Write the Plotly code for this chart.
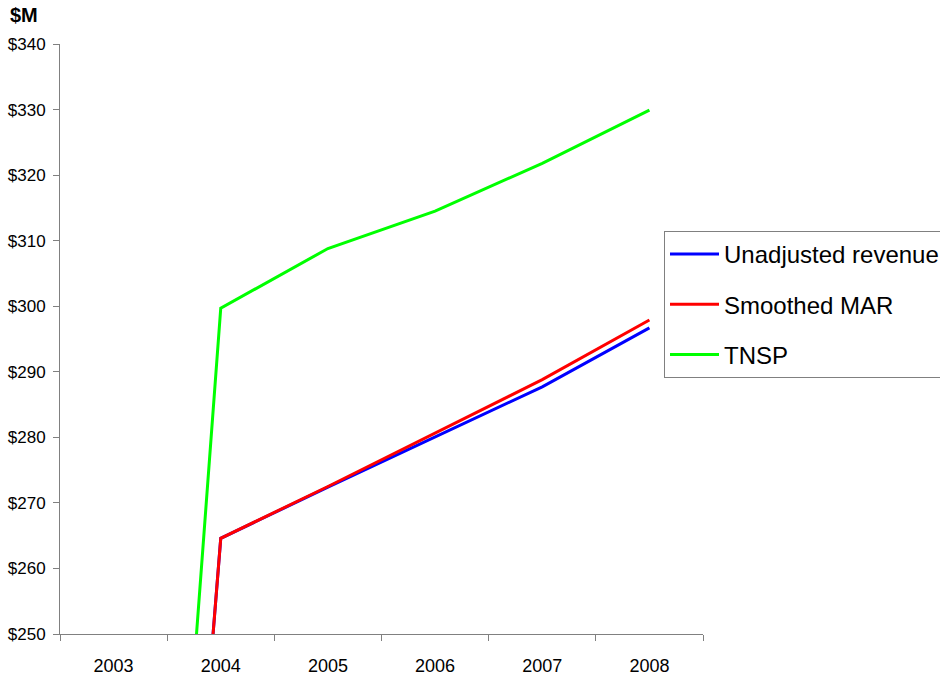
import plotly.graph_objects as go

# Annual revenue series, $M
years = ["2003", "2004", "2005", "2006", "2007", "2008"]
unadjusted_revenue = [61.0, 264.6, 272.4, 280.0, 287.7, 296.7]
smoothed_mar = [61.0, 264.6, 272.5, 280.6, 288.8, 297.9]
tnsp = [80.0, 299.7, 308.8, 314.5, 321.8, 329.9]

y_ticks = [250, 260, 270, 280, 290, 300, 310, 320, 330, 340]
y_tick_labels = ["$" + str(v) for v in y_ticks]

FONT = "Liberation Sans, Arial, sans-serif"

series = [
    ("Unadjusted revenue", unadjusted_revenue, "#0000FF"),
    ("Smoothed MAR", smoothed_mar, "#FF0000"),
    ("TNSP", tnsp, "#00FF00"),
]

fig = go.Figure()
for name, values, color in series:
    fig.add_trace(go.Scatter(
        x=years, y=values, name=name, mode="lines",
        line=dict(color=color, width=3),
        legendgroup=name,
    ))

fig.update_layout(
    width=940, height=678,
    margin=dict(l=60, r=237, t=44, b=44, autoexpand=False),
    paper_bgcolor="white", plot_bgcolor="white",
    font=dict(family=FONT, size=17, color="black"),
    showlegend=True,
    legend=dict(
        x=(664 - 60) / 643, xanchor="left",
        y=(634 - 231) / 590, yanchor="top",
        bgcolor="white", bordercolor="#808080", borderwidth=1,
        font=dict(family=FONT, size=24, color="black"),
        traceorder="grouped", tracegroupgap=16,
        itemwidth=49,
    ),
    xaxis=dict(
        type="category",
        showgrid=False, zeroline=False,
        showline=True, linecolor="#808080", linewidth=1,
        ticks="outside", tickson="boundaries", ticklen=6,
        tickcolor="#808080",
        tickfont=dict(family=FONT, size=18),
        ticklabelstandoff=15,
        range=[-0.5, 5.5],
    ),
    yaxis=dict(
        range=[250, 340],
        tickvals=y_ticks, ticktext=y_tick_labels,
        showgrid=False, zeroline=False,
        showline=True, linecolor="#808080", linewidth=1,
        ticks="outside", ticklen=6, tickcolor="#808080",
        tickfont=dict(family=FONT, size=17),
        ticklabelstandoff=4,
    ),
    annotations=[dict(
        text="<b>$M</b>", xref="paper", yref="paper",
        x=(8 - 60) / 643, xanchor="left",
        y=1 + (44 - 15) / 590, yanchor="middle",
        showarrow=False,
        font=dict(family=FONT, size=20, color="black"),
    )],
)

fig.write_html("out.html")
